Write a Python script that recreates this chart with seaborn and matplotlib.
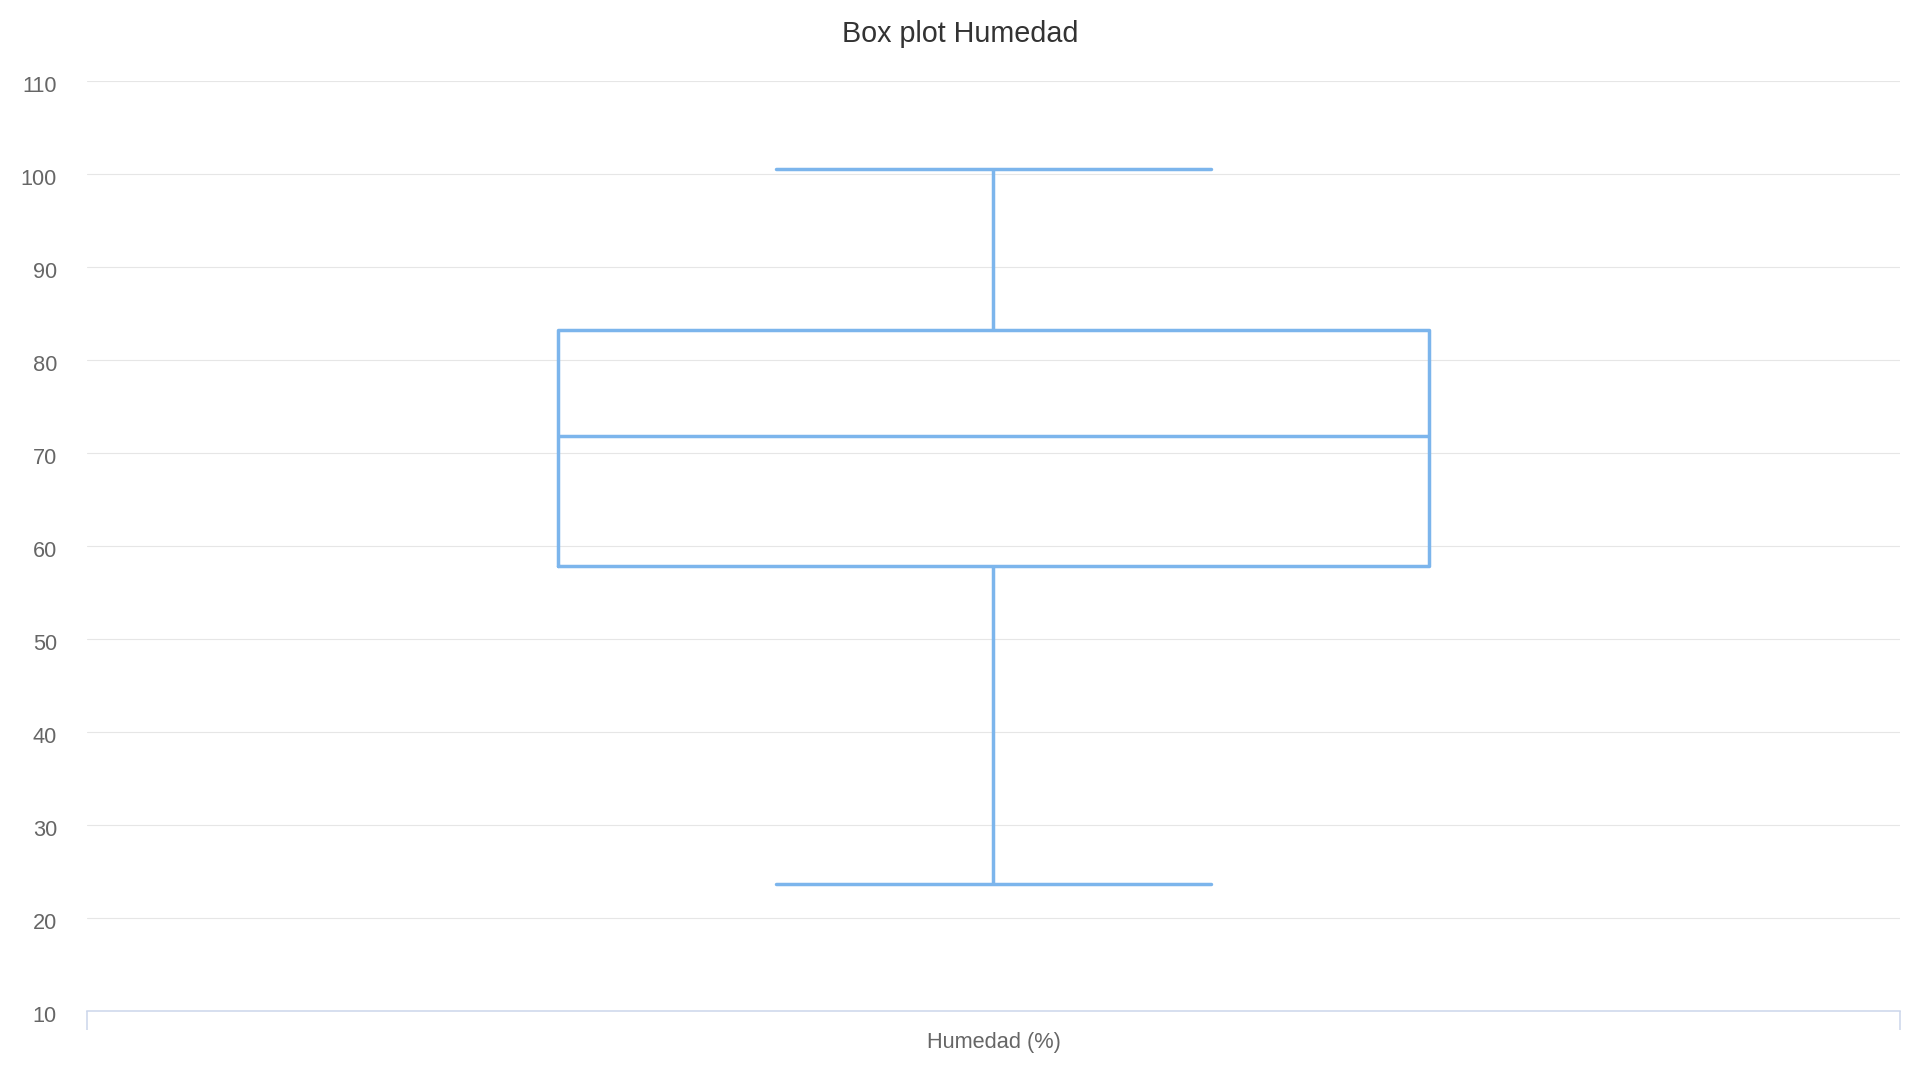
import matplotlib
matplotlib.use("Agg")
import matplotlib.pyplot as plt
import matplotlib.transforms as mtransforms
import seaborn as sns
import pandas as pd

# ---- data ----
categories = ["Humedad (%)"]
low_values = [23.7]
q1_values = [57.8]
median_values = [71.8]
q3_values = [83.2]
high_values = [100.5]
y_ticks = [10, 20, 30, 40, 50, 60, 70, 80, 90, 100, 110]
title_text = "Box plot Humedad"

# five-number summary per category -> seaborn computes exactly these with whis=(0, 100)
rows = []
for cat, lo, a, m, b, hi in zip(categories, low_values, q1_values, median_values, q3_values, high_values):
    for v in (lo, a, m, b, hi):
        rows.append({"category": cat, "value": v})
df = pd.DataFrame(rows)

sns.set_theme(style="white")
plt.rcParams["font.family"] = ["Liberation Sans", "DejaVu Sans"]

fig = plt.figure(figsize=(19.2, 10.8), dpi=100)
ax = fig.add_axes([87 / 1920, 1 - 1011 / 1080, (1900 - 87) / 1920, (1011 - 81) / 1080])

BOX_COLOR = "#7cb5ec"
sns.boxplot(
    data=df, x="category", y="value", ax=ax,
    width=0.48, whis=(0, 100), fill=False, color=BOX_COLOR,
    linewidth=2.5, showfliers=False,
)

ax.set_xlim(-0.5, 0.5)
ax.set_ylim(10, 110)
ax.set_yticks(y_ticks)
ax.set_yticklabels([str(t) for t in y_ticks])
ax.set_xticks([0])
ax.set_xticklabels(categories)
ax.set_xticks([-0.5, 0.5], minor=True)
ax.set_xlabel("")
ax.set_ylabel("")

ax.yaxis.grid(True, color="#e6e6e6", linewidth=0.8)
ax.xaxis.grid(False)
ax.set_axisbelow(True)
for s in ("left", "right", "top"):
    ax.spines[s].set_visible(False)
ax.spines["bottom"].set_color("#ccd6eb")
ax.spines["bottom"].set_linewidth(1.1)

ax.tick_params(axis="y", length=0, pad=21.6, labelsize=15.7, labelcolor="#666666")
ax.tick_params(axis="x", which="major", bottom=True, length=0, pad=15, labelsize=15.7, labelcolor="#666666")
ax.tick_params(axis="x", which="minor", bottom=True, length=13.7, width=1.1, color="#ccd6eb", direction="out")

offset = mtransforms.ScaledTranslation(0, -3 / 100, fig.dpi_scale_trans)
for lbl in ax.get_yticklabels():
    lbl.set_transform(lbl.get_transform() + offset)

fig.text(0.5, 1 - 42.3 / 1080, title_text, ha="center", va="baseline",
         fontsize=20.7, color="#333333")

fig.savefig("out.png", dpi=100, facecolor="white")
